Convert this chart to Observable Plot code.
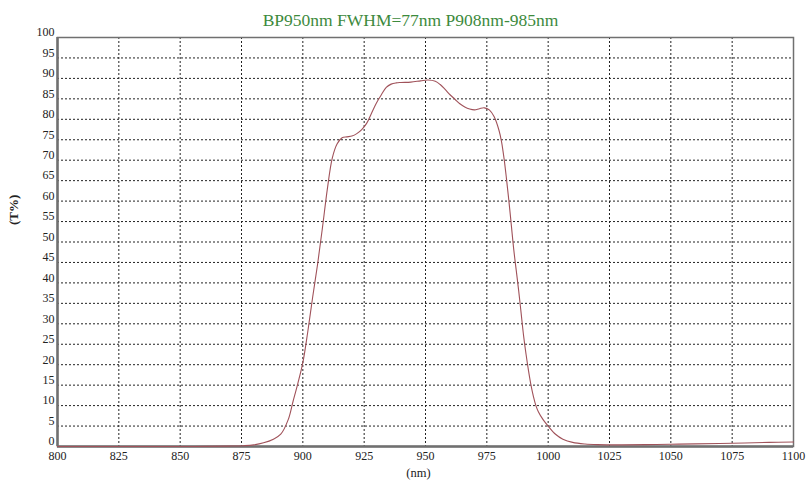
<!DOCTYPE html>
<html><head><meta charset="utf-8">
<script src="https://cdn.jsdelivr.net/npm/d3@7"></script>
<script src="https://cdn.jsdelivr.net/npm/@observablehq/plot@0.6"></script>
<style>body{margin:0;background:#fff}</style>
</head><body><div id="chart"></div>
<script>
const title = "BP950nm FWHM=77nm P908nm-985nm";
const xLabel = "(nm)";
const yLabel = "(T%)";
const xTicks = [800, 825, 850, 875, 900, 925, 950, 975, 1000, 1025, 1050, 1075, 1100];
const yTicks = [0, 5, 10, 15, 20, 25, 30, 35, 40, 45, 50, 55, 60, 65, 70, 75, 80, 85, 90, 95, 100];
const wavelength = [800, 825, 850, 870, 876, 880, 884, 888, 891, 894, 896, 898, 900, 902, 904, 906, 908, 910, 912, 914, 916, 918, 920, 922, 924, 926, 928, 930, 932, 934, 936, 938, 940, 944, 948, 951, 954, 956, 958, 960, 962, 964, 966, 968, 970, 972, 974, 976, 978, 980, 981, 982, 983, 984, 985, 986, 987, 988, 989, 990, 991, 992, 993, 994, 995, 996, 998, 1000, 1003, 1006, 1010, 1015, 1020, 1030, 1040, 1050, 1060, 1075, 1090, 1100];
const transmission = [0, 0, 0, 0.1, 0.2, 0.4, 0.9, 1.8, 3, 6.5, 11, 15.5, 20.5, 28, 36.5, 44.5, 53.5, 63, 70.5, 74, 75.5, 75.7, 75.9, 76.5, 77.5, 79, 81.5, 84, 86, 87.8, 88.6, 88.9, 89, 89.1, 89.4, 89.6, 89.3, 88.5, 87.3, 86, 84.9, 83.8, 83, 82.5, 82.3, 82.6, 82.8, 82.3, 80.6, 77.2, 74.5, 70.5, 65.5, 60, 54, 48, 43, 38, 32.5, 27, 22.5, 18.5, 15, 12.2, 10, 8.5, 6.5, 5, 3, 1.8, 1.0, 0.6, 0.45, 0.4, 0.45, 0.55, 0.65, 0.8, 1.0, 1.1];

const data = wavelength.map((w, i) => ({w, t: transmission[i]}));
const font = "Liberation Serif, Times New Roman, serif";

const chart = Plot.plot({
  width: 809, height: 483,
  marginLeft: 57, marginRight: 16, marginTop: 37, marginBottom: 37,
  style: {fontFamily: font, fontSize: "12px", color: "#222", background: "#fff"},
  x: {domain: [800, 1100], label: null},
  y: {domain: [0, 100], label: null},
  marks: [
    Plot.ruleY(yTicks.filter(d => d > 0 && d < 100), {stroke: "#222", strokeWidth: 1, strokeDasharray: "2,2"}),
    Plot.ruleX(xTicks.filter(d => d > 800 && d < 1100), {stroke: "#222", strokeWidth: 1, strokeDasharray: "2,2"}),
    Plot.axisX({ticks: xTicks, tickSize: 0, tickPadding: 5, fontSize: 12, fill: "#222", tickFormat: d => String(d), label: null}),
    Plot.axisY({ticks: yTicks, tickSize: 0, tickPadding: 3, dy: -5, fontSize: 12, fill: "#222", label: null}),
    Plot.frame({stroke: "#707070", strokeWidth: 1.5}),
    Plot.ruleX([800], {stroke: "#707070", strokeWidth: 2.5}),
    Plot.ruleY([0], {stroke: "#707070", strokeWidth: 2.5}),
    Plot.line(data, {x: "w", y: "t", stroke: "#a0525a", strokeWidth: 1.1, curve: "catmull-rom"}),
    Plot.text([title], {frameAnchor: "top", lineAnchor: "middle", dy: -17, dx: -15, fill: "#3d8a3d", fontSize: 17.5, fontFamily: font}),
    Plot.text([xLabel], {frameAnchor: "bottom", lineAnchor: "middle", dy: 26, dx: -7, fill: "#222", fontSize: 12.5, fontFamily: font}),
    Plot.text([yLabel], {frameAnchor: "left", dx: -44, dy: -17, rotate: -90, fill: "#222", fontSize: 13, fontWeight: "bold", fontFamily: font})
  ]
});
document.getElementById("chart").appendChild(chart);
</script>
</body></html>
